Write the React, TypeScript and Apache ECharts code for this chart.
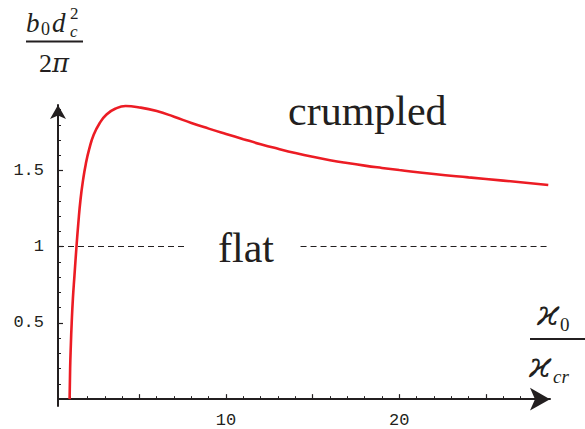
import React, { useEffect, useRef } from "react";
import * as echarts from "echarts";

// curve: b0 d_c^2 / 2pi  vs  kappa0 / kappa_cr
const xVals = [0.97, 1.0, 1.04, 1.09, 1.16, 1.25, 1.36, 1.47, 1.6, 1.75, 1.9, 2.1, 2.36, 2.7, 3.1, 3.6, 4.2, 5.0, 6, 7, 8, 9, 10, 11, 12, 13, 14, 15, 16, 17, 18, 19, 20, 22, 24, 26, 28.6];
const yVals = [0, 0.2, 0.35, 0.5, 0.66, 0.81, 0.99, 1.15, 1.31, 1.44, 1.54, 1.64, 1.735, 1.81, 1.868, 1.905, 1.923, 1.914, 1.89, 1.853, 1.812, 1.775, 1.74, 1.706, 1.673, 1.643, 1.615, 1.59, 1.568, 1.549, 1.532, 1.517, 1.503, 1.477, 1.455, 1.434, 1.405];

// reference line (flat/crumpled boundary)
const boundaryY = 1;
const boundarySegments = [[0.3, 7.7], [14.3, 28.7]];

// axes
const xRange = [0.3, 28.7];
const yRange = [-0.045, 1.93];
const xLabelValues = [10, 20];
const xMajorTicks = [5, 10, 15, 20, 25];
const xMinorTicks = [1, 2, 3, 4, 5, 6, 7, 8, 9, 10, 11, 12, 13, 14, 15, 16, 17, 18, 19, 20, 21, 22, 23, 24, 25, 26, 27, 28];
const yLabelValues = [0.5, 1, 1.5];
const yMinorTicks = [0.1, 0.2, 0.3, 0.4, 0.5, 0.6, 0.7, 0.8, 0.9, 1.0, 1.1, 1.2, 1.3, 1.4, 1.5, 1.6, 1.7, 1.8, 1.9];

const INK = "#231f20";
const RED = "#ec1c24";
const SERIF = "'Liberation Serif', 'DejaVu Serif', serif";
const GREEK = "'DejaVu Serif', 'Liberation Serif', serif";
const MONO = "'Liberation Mono', 'DejaVu Sans Mono', monospace";

function txt(text: string, x: number, baseline: number, size: number, italic: boolean, family = SERIF, align = "left") {
  return {
    type: "text",
    silent: true,
    style: {
      text,
      x,
      y: baseline - 0.3375 * size,
      fill: INK,
      font: `${italic ? "italic " : ""}${size}px ${family}`,
      textAlign: align,
      textVerticalAlign: "middle",
      verticalAlign: "middle",
    },
  };
}

export default function App() {
  const ref = useRef<HTMLDivElement>(null);
  useEffect(() => {
    if (!ref.current) return;
    const chart = echarts.init(ref.current, null, { renderer: "svg" });
    const data = xVals.map((x, i) => [x, yVals[i]]);
    const axisLineCommon = { lineStyle: { color: INK, width: 2 } };
    chart.setOption({
      animation: false,
      grid: { left: 58, right: 35, top: 105, bottom: 21, containLabel: false },
      xAxis: [
        {
          type: "value",
          position: "bottom",
          min: xRange[0],
          max: xRange[1],
          axisLine: { ...axisLineCommon, onZero: true, symbol: ["none", "arrow"], symbolSize: [17, 20] },
          axisTick: { show: true, inside: true, length: 5, customValues: xMajorTicks, lineStyle: { color: INK, width: 1.2 } },
          axisLabel: { show: true, customValues: xLabelValues, margin: 6, color: INK, fontFamily: MONO, fontSize: 17 },
          splitLine: { show: false },
        },
        {
          type: "value",
          position: "bottom",
          min: xRange[0],
          max: xRange[1],
          axisLine: { show: false, onZero: true },
          axisTick: { show: true, inside: true, length: 3, customValues: xMinorTicks, lineStyle: { color: INK, width: 1 } },
          axisLabel: { show: false },
          splitLine: { show: false },
        },
      ],
      yAxis: [
        {
          type: "value",
          position: "left",
          min: yRange[0],
          max: yRange[1],
          axisLine: { ...axisLineCommon, onZero: false, symbol: ["none", "arrow"], symbolSize: [12, 14] },
          axisTick: { show: true, inside: true, length: 5, customValues: yLabelValues, lineStyle: { color: INK, width: 1.2 } },
          axisLabel: { show: true, customValues: yLabelValues, margin: 14, color: INK, fontFamily: MONO, fontSize: 17, formatter: (v: number) => String(v) },
          splitLine: { show: false },
        },
        {
          type: "value",
          position: "left",
          min: yRange[0],
          max: yRange[1],
          axisLine: { show: false, onZero: false },
          axisTick: { show: true, inside: true, length: 3, customValues: yMinorTicks, lineStyle: { color: INK, width: 1 } },
          axisLabel: { show: false },
          splitLine: { show: false },
        },
      ],
      series: [
        {
          type: "line",
          xAxisIndex: 0,
          yAxisIndex: 0,
          data,
          smooth: 0.5,
          showSymbol: false,
          symbol: "none",
          clip: false,
          lineStyle: { color: RED, width: 2.6 },
          markLine: {
            silent: true,
            symbol: ["none", "none"],
            label: { show: false },
            lineStyle: { color: INK, width: 1, type: [6, 4] },
            data: boundarySegments.map(([a, b]) => [
              { coord: [a, boundaryY] },
              { coord: [b, boundaryY] },
            ]),
          },
          z: 3,
        },
      ],
      graphic: [
        txt("crumpled", 288, 125, 42, false),
        txt("flat", 218, 262, 42, false),
        // y-axis title: b0 dc^2 / 2pi
        txt("b", 26, 32, 27, true),
        txt("0", 41, 35, 18, false),
        txt("d", 52, 32, 27, true),
        txt("2", 70, 19, 17, false),
        txt("c", 70, 37, 17, true),
        { type: "rect", silent: true, shape: { x: 26, y: 40.5, width: 57, height: 2 }, style: { fill: INK } },
        txt("2", 39, 72, 26, false),
        txt("π", 52, 72, 26, true, GREEK),
        // x-axis title: kappa0 / kappa_cr
        txt("ϰ", 537, 325, 36, true, GREEK),
        txt("0", 560, 331, 19, false),
        { type: "rect", silent: true, shape: { x: 530, y: 338, width: 56, height: 2 }, style: { fill: INK } },
        txt("ϰ", 529, 377, 36, true, GREEK),
        txt("cr", 553, 383, 19, true),
      ],
    });
    return () => chart.dispose();
  }, []);
  return <div ref={ref} style={{ width: 585, height: 429, position: "absolute", left: 0, top: 0 }} />;
}
